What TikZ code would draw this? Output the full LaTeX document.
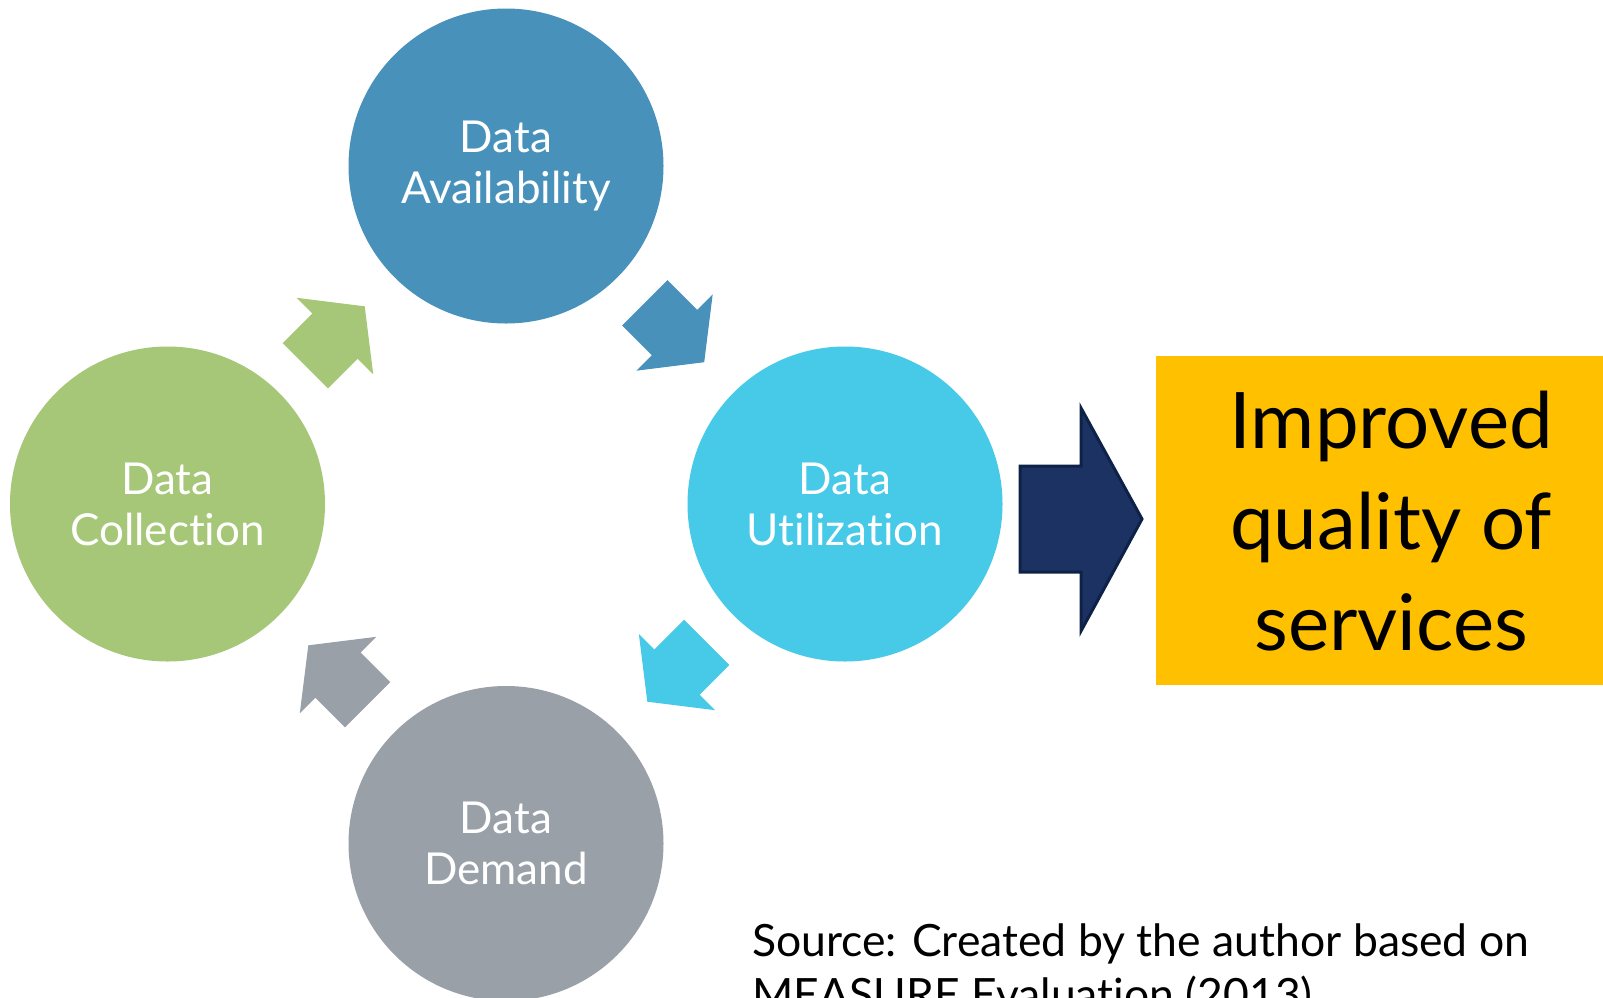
\documentclass[tikz,border=0pt]{standalone}
\usepackage{fontspec}
\setmainfont{Lato}[RawFeature={-liga}]
\definecolor{availc}{HTML}{4891BB}
\definecolor{utilc}{HTML}{47C9E8}
\definecolor{collc}{HTML}{A5C777}
\definecolor{demc}{HTML}{99A0A8}
\definecolor{yelc}{HTML}{FFC000}
\definecolor{navyc}{HTML}{1B3262}
\definecolor{navyb}{HTML}{0E2248}
\newcommand\blockarrow[3]{%
  \begin{scope}[shift={(#1)}, rotate=#2]
    \fill[#3] (-42,-32) -- (0,-32) -- (0,-54) -- (42,0) -- (0,54) -- (0,32) -- (-42,32) -- cycle;
  \end{scope}}
\tikzset{
  bubble/.style={circle, inner sep=0pt, minimum size=315pt, text=white, align=center,
    font=\fontsize{44}{51}\selectfont},
  srcline/.style={anchor=base west, inner sep=0pt, font=\fontsize{44.5}{54}\selectfont},
}
\begin{document}
\begin{tikzpicture}[x=1pt,y=-1pt]
\useasboundingbox (0,0) rectangle (1603,997);
\clip (0,0) rectangle (1603,997);
\fill[white] (0,0) rectangle (1603,997);
% circles
\node[bubble, fill=availc] (avail) at (506,166) {Data\\Availability};
\node[bubble, fill=utilc] (util) at (845,504) {Data\\Utilization};
\node[bubble, fill=collc] (coll) at (167.5,504) {Data\\Collection};
\node[bubble, fill=demc] (dem) at (506,843.5) {Data\\Demand};
% small block arrows
\blockarrow{335,336}{45}{collc}
\blockarrow{674.5,332.5}{-45}{availc}
\blockarrow{677,672}{-135}{utilc}
\blockarrow{338,675}{135}{demc}
% big arrow
\filldraw[fill=navyc, draw=navyb, line width=3pt, line join=miter]
  (1020,466) -- (1081,466) -- (1081,408) -- (1142,519) -- (1081,631) -- (1081,572) -- (1020,572) -- cycle;
% yellow box
\node[rectangle, fill=yelc, anchor=north west, minimum width=470pt, minimum height=329pt,
  inner sep=0pt, align=center, font=\fontsize{78}{101}\selectfont] (box) at (1156,356)
  {Improved\\quality of\\services};
% source
\node[srcline] (src1) at (752,956) {Source: Created by the author based on};
\node[srcline] (src2) at (752,1010) {MEASURE Evaluation (2013)};
\end{tikzpicture}
\end{document}
